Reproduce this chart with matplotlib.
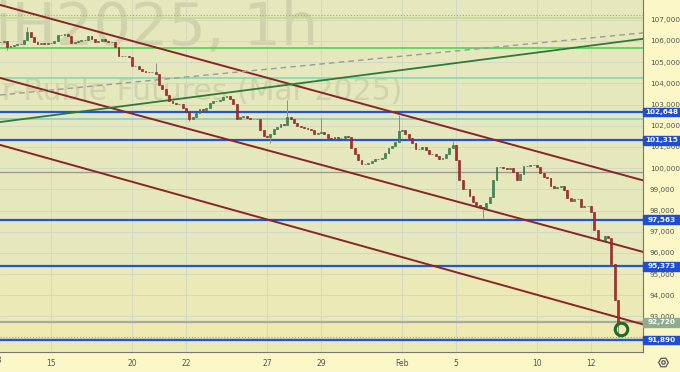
import matplotlib.pyplot as plt
import matplotlib.transforms as mtransforms
from matplotlib.patches import Rectangle
from matplotlib.lines import Line2D
from matplotlib.ticker import FuncFormatter
import numpy as np

# Si (USD/RUB) futures, closes, 8 bars per trading day
close = [
    105950, 105950, 106000, 105710, 105760, 105810, 105860, 105850,  # Jan 13
    106050, 106420, 106190, 105950, 105860, 105900, 105850, 105910,  # Jan 14
    105900, 106000, 106280, 106270, 106330, 106230, 105900, 105950,  # Jan 15
    106000, 106050, 106040, 106230, 106090, 105950, 106000, 106090,  # Jan 16
    106000, 105950, 105960, 105710, 105290, 105280, 105300, 105240,  # Jan 17
    104820, 104830, 104680, 104580, 104540, 104530, 104540, 104440,  # Jan 20
    103920, 103730, 103450, 103170, 103070, 103030, 103020, 102840,  # Jan 21
    102650, 102320, 102410, 102600, 102790, 102740, 102840, 103070,  # Jan 22
    103170, 103160, 103210, 103360, 103400, 103260, 103030, 102320,  # Jan 23
    102410, 102460, 102370, 102320, 102310, 102320, 101800, 101520,  # Jan 24
    101470, 101610, 101850, 101940, 102080, 102030, 102410, 102320,  # Jan 27
    102130, 101990, 101940, 101890, 101850, 101800, 101610, 101660,  # Jan 28
    101700, 101610, 101420, 101370, 101470, 101420, 101430, 101520,  # Jan 29
    101460, 100950, 100670, 100380, 100190, 100200, 100240, 100340,  # Jan 30
    100430, 100420, 100480, 100710, 100950, 101040, 101230, 101750,  # Jan 31
    101800, 101610, 101420, 101190, 100900, 100910, 101000, 100860,  # Feb 3
    100670, 100660, 100570, 100430, 100480, 100670, 100950, 101090,  # Feb 4
    100380, 99440, 99020, 99010, 98690, 98400, 98260, 98170,         # Feb 5
    98120, 98350, 98640, 99440, 100050, 100060, 100010, 99960,       # Feb 6
    100000, 99820, 99440, 99720, 100100, 100090, 100150, 100140,     # Feb 7
    100050, 99770, 99580, 99530, 99160, 99060, 99110, 99150,         # Feb 10
    98970, 98590, 98450, 98540, 98550, 98170, 98210, 98220,          # Feb 11
    97930, 97080, 96610, 96600, 96800, 96700, 95480, 93780,          # Feb 12
    92720,                                                           # Feb 13
]
# visible wicks
wick_high_idx = [9, 47, 86, 96, 119, 135]
wick_high = [106660, 104960, 103210, 102360, 102510, 101280]
wick_low_idx = [3, 57, 81, 144, 184]
wick_low = [105570, 102220, 101190, 97650, 92030]

bars_per_day = 8
day_labels = ["13", "15", "20", "22", "27", "29", "Feb", "5", "10", "12"]
day_numbers = [0, 2, 5, 7, 10, 12, 15, 17, 20, 22]  # trading day number

# levels drawn on the chart
blue_levels = [102648, 101315, 97563, 95373, 91890]
green_levels = [107083, 105667, 104252, 102318]
green_colors = ['#c4df86', '#5fd35f', '#86dcb4', '#93cccc']
gray_level = 99817
dotted_levels = [107224, 92033]
last_price = 92720

# trend lines: two points each (bar index, price)
channel = [((1, 107696), (191, 99440)),
           ((1, 104252), (191, 96066)),
           ((1, 101091), (191, 92645))]
green_trend = ((1, 102176), (191, 106092))
dashed_trend = ((1, 103450), (191, 106375))

fig = plt.figure(figsize=(6.8, 3.72), dpi=100)
fig.patch.set_facecolor('#fcf7c6')
ax = fig.add_axes([0, 20 / 372, 643 / 680, 352 / 372])
ax.set_facecolor('#e5e8bc')
ax.set_xlim(0.89, 191.4)
ax.set_ylim(91325, 107932)

# lower, more yellow zone
ax.axhspan(91325, 95373, color='#ebe9b5', zorder=0)
ax.axhspan(91890, last_price, color='#efeab0', zorder=0)

# watermark
ax.text(318 / 643, 1 - 45 / 352, "SiH2025, 1h", transform=ax.transAxes, ha='right',
        va='baseline', fontsize=42.5, family='DejaVu Sans', color='#cfd2ab', zorder=1)
ax.text(402 / 643, 1 - 100 / 352, "Dollar-Ruble Futures (Mar 2025)", transform=ax.transAxes,
        ha='right', va='baseline', fontsize=21.5, family='DejaVu Sans', color='#cfd2ab',
        zorder=1)

# grid
ax.set_yticks(np.arange(92000, 108000, 1000))
ax.set_xticks([d * bars_per_day for d in day_numbers[1:]])
ax.set_xticklabels(day_labels[1:])
ax.grid(color='#cfd6c6', lw=0.6, zorder=0.5)

# horizontal levels
for p, col in zip(green_levels, green_colors):
    ax.axhline(p, color=col, lw=1.3, zorder=2)
ax.axhline(gray_level, color='#a09c88', lw=1.0, zorder=2)
for p in dotted_levels:
    ax.axhline(p, color='#a0a0a0', lw=0.8, ls=':', zorder=2)
ax.axhline(last_price, color='#a8a8a8', lw=1.6, zorder=2)
for p in blue_levels:
    ax.axhline(p, color='#2255d0', lw=1.6, zorder=2)

# trend lines
for p1, p2 in channel:
    ax.axline(p1, p2, color='#8a2427', lw=1.4, zorder=2.5)
ax.axline(*green_trend, color='#2c7a3a', lw=1.3, zorder=2.5)
ax.axline(*dashed_trend, color='#9a9a9a', lw=1.0, ls=(0, (4, 3)), zorder=2.5)

# candles
c = np.array(close, dtype=float)
o = np.r_[c[0], c[:-1]]
hi = np.maximum(o, c)
lo = np.minimum(o, c)
hi[wick_high_idx] = wick_high
lo[wick_low_idx] = wick_low
x = np.arange(len(c))
up = c >= o
ax.vlines(x, lo, hi, color='#8e8e86', lw=0.7, zorder=3)
ax.bar(x[up], (c - o)[up], bottom=o[up], width=0.58, color='#3e8a52',
       edgecolor='#2a6b3c', lw=0.4, zorder=4)
ax.bar(x[~up], (c - o)[~up], bottom=o[~up], width=0.58, color='#b22a2a',
       edgecolor='#7f1c1c', lw=0.4, zorder=4)

# circle at the last bar
ax.plot(len(c) - 1 + 0.9, 92410, 'o', ms=9, mfc='none', mec='#1f6b24', mew=2.2,
        zorder=5, clip_on=False)

# axes look
for s in ['top', 'left']:
    ax.spines[s].set_visible(False)
ax.spines['right'].set_color('#77776a')
ax.spines['bottom'].set_color('#77776a')
ax.yaxis.tick_right()
# 92,000 sits under the 91,890 label box, so leave it blank
ax.yaxis.set_major_formatter(FuncFormatter(lambda v, _: '' if v == 92000 else f'{v:,.0f}'))
ax.tick_params(axis='y', length=0, pad=5, labelsize=5.2, labelcolor='#555555')
ax.tick_params(axis='x', length=0, pad=5, labelsize=5.5, labelcolor='#555555')
# first day label, cut by the left edge
ax.text(day_numbers[0] * bars_per_day, -0.01, day_labels[0],
        transform=mtransforms.blended_transform_factory(ax.transData, ax.transAxes),
        ha='center', va='top', fontsize=5.5, color='#555555', clip_on=False)

# price labels on the right scale
trans = mtransforms.blended_transform_factory(ax.transAxes, ax.transData)
box_w = 37 / 643
for p, col in [(p, '#1f4fd0') for p in blue_levels] + [(last_price, '#8fac93')]:
    ax.add_patch(Rectangle((1.0, p - 205), box_w, 410, transform=trans,
                           color=col, clip_on=False, zorder=6))
    ax.text(1.0 + box_w / 2, p, f'{p:,}', transform=trans, ha='center', va='center',
            fontsize=5.2, color='white', fontweight='bold', zorder=7, clip_on=False)

# settings icon
fig.add_artist(Line2D([663 / 680], [10 / 372], marker='H', ms=7, mfc='none',
                      mec='#555555', mew=0.9, transform=fig.transFigure))
fig.add_artist(Line2D([663 / 680], [10 / 372], marker='o', ms=2.5, mfc='none',
                      mec='#555555', mew=0.9, transform=fig.transFigure))

fig.savefig('out.png', dpi=100, facecolor=fig.get_facecolor())
